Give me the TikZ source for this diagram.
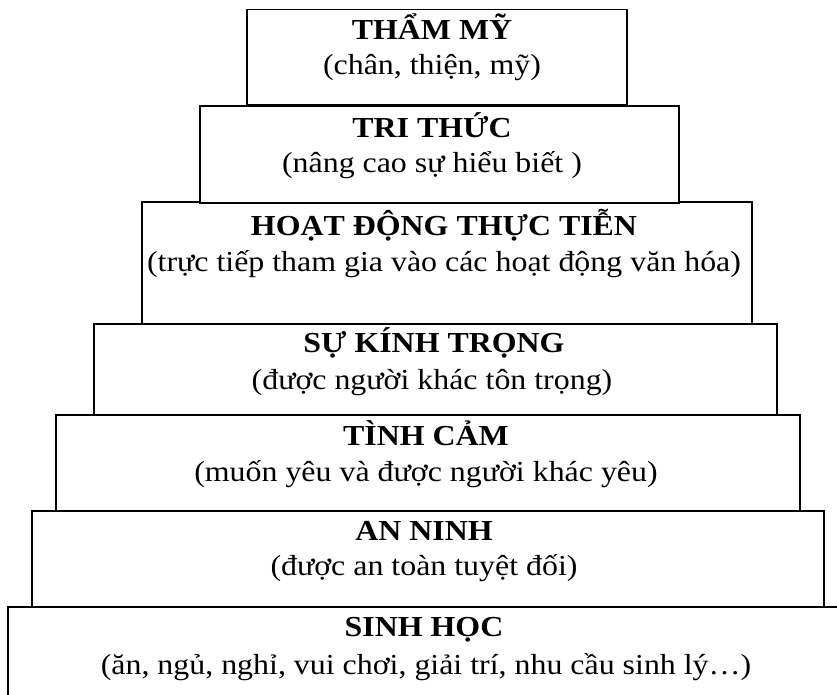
\documentclass[tikz,border=0pt]{standalone}
\usepackage{fontspec}
\setmainfont{Liberation Serif}[FakeStretch=1.10]
\begin{document}
\begin{tikzpicture}[x=1pt,y=-1pt,
  box/.style={draw=black, line width=1.5pt, inner sep=0pt, fill=white},
  ttl/.style={anchor=base, inner sep=0pt, font=\fontsize{29}{31}\selectfont\bfseries},
  sub/.style={anchor=base, inner sep=0pt, font=\fontsize{29}{31}\selectfont}]
\useasboundingbox (0,0) rectangle (837,695);
\clip (0,0) rectangle (837,695);
% boxes (from bottom up so shared edges are drawn cleanly)
\node[box, minimum width=850pt, minimum height=100pt] (b7) at (433,657) {};
\node[box, minimum width=792pt, minimum height=96pt] (b6) at (428,559) {};
\node[box, minimum width=744pt, minimum height=96pt] (b5) at (428,463) {};
\node[box, minimum width=683pt, minimum height=91pt] (b4) at (435.5,369.5) {};
\node[box, minimum width=610pt, minimum height=122pt] (b3) at (447,263) {};
\node[box, minimum width=479pt, minimum height=97pt] (b2) at (439.5,154.5) {};
\node[box, minimum width=380pt, minimum height=95pt] (b1) at (437,57) {};
% texts
\node[ttl] (t1) at (432,40) {THẨM MỸ};
\node[sub] (s1) at (432,75) {(chân, thiện, mỹ)};
\node[ttl] (t2) at (432,138) {TRI THỨC};
\node[sub] (s2) at (432,173) {(nâng cao sự hiểu biết )};
\node[ttl] (t3) at (444,235) {HOẠT ĐỘNG THỰC TIỄN};
\node[sub] (s3) at (444,271) {(trực tiếp tham gia vào các hoạt động văn hóa)};
\node[ttl] (t4) at (434,352) {SỰ KÍNH TRỌNG};
\node[sub] (s4) at (432,389) {(được người khác tôn trọng)};
\node[ttl] (t5) at (426,445) {TÌNH CẢM};
\node[sub] (s5) at (426,481) {(muốn yêu và được người khác yêu)};
\node[ttl] (t6) at (424,540) {AN NINH};
\node[sub] (s6) at (424,575) {(được an toàn tuyệt đối)};
\node[ttl] (t7) at (424,636) {SINH HỌC};
\node[sub] (s7) at (426,674) {(ăn, ngủ, nghỉ, vui chơi, giải trí, nhu cầu sinh lý…)};
\end{tikzpicture}
\end{document}
